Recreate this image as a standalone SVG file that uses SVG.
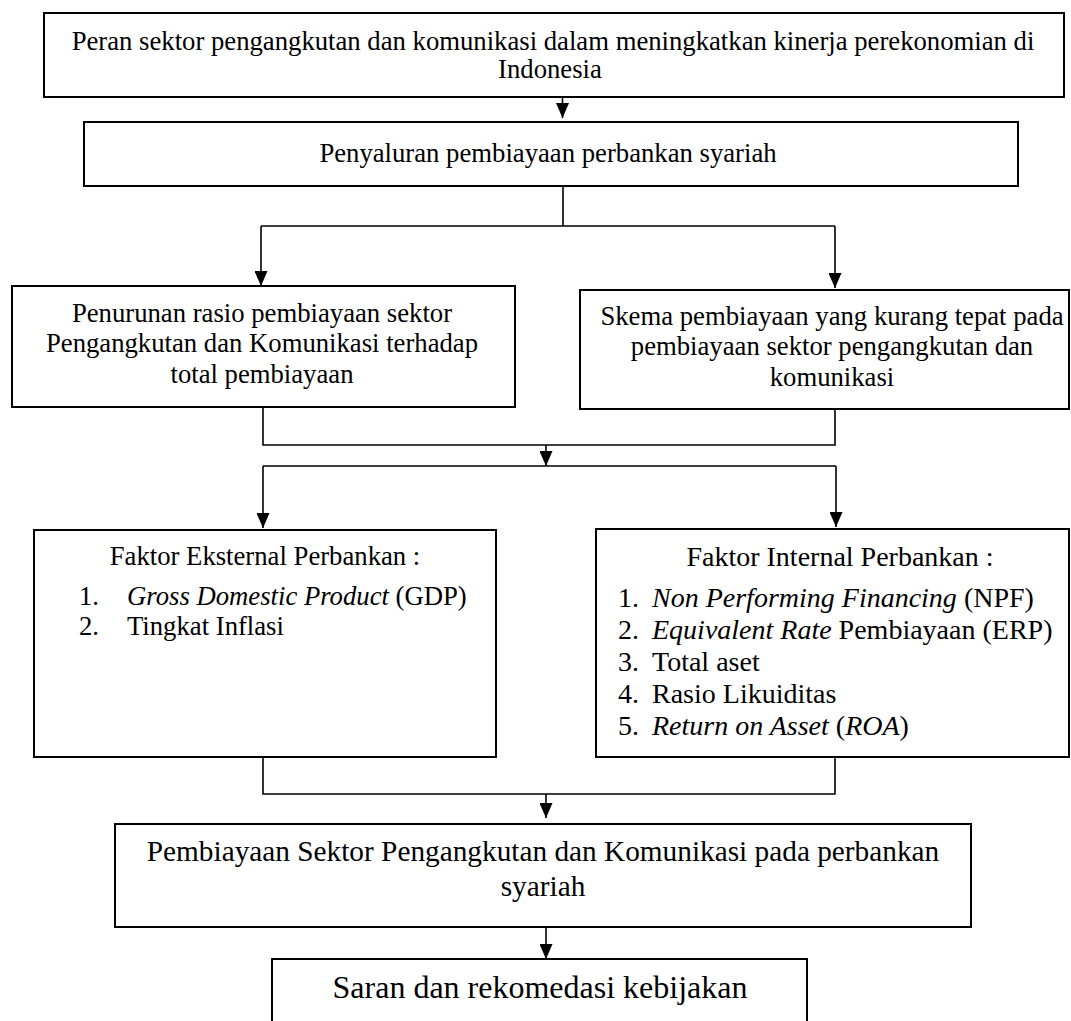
<svg xmlns="http://www.w3.org/2000/svg" width="1071" height="1021" viewBox="0 0 1071 1021">
<style>
.box{fill:#fff;stroke:#000;stroke-width:2}
.con{fill:none;stroke:#000;stroke-width:1.6}
.t{font-family:"Liberation Serif","Times New Roman",serif;font-size:26.7px;fill:#000}
.m{text-anchor:middle}
.big{font-size:28px}
.i{font-style:italic}
</style>
<defs>
<marker id="arr" viewBox="0 0 15 13" refX="15" refY="6.5" markerWidth="15" markerHeight="13" markerUnits="userSpaceOnUse" orient="auto">
<path d="M0,0 L15,6.5 L0,13 z" fill="#000"/>
</marker>
</defs>
<rect width="1071" height="1021" fill="#fff"/>
<g id="connectors">
<path class="con" d="M562.5,97 V118" marker-end="url(#arr)"/>
<path class="con" d="M563,186 V226 M261,226 H835"/>
<path class="con" d="M261,226 V286" marker-end="url(#arr)"/>
<path class="con" d="M835,226 V288" marker-end="url(#arr)"/>
<path class="con" d="M263,407 V445 H835 V409"/>
<path class="con" d="M546,445 V466" marker-end="url(#arr)"/>
<path class="con" d="M263,466 H836"/>
<path class="con" d="M263,466 V528" marker-end="url(#arr)"/>
<path class="con" d="M836,466 V527" marker-end="url(#arr)"/>
<path class="con" d="M263,757 V794 H835 V757"/>
<path class="con" d="M546,794 V818" marker-end="url(#arr)"/>
<path class="con" d="M546,927 V959" marker-end="url(#arr)"/>
</g>
<g id="n1">
<rect class="box" x="44" y="13" width="1020" height="84"/>
<text class="t m" x="553" y="50">Peran sektor pengangkutan dan komunikasi dalam meningkatkan kinerja perekonomian di</text>
<text class="t m" x="550" y="78">Indonesia</text>
</g>
<g id="n2">
<rect class="box" x="84" y="122" width="934" height="64"/>
<text class="t m" x="548" y="162">Penyaluran pembiayaan perbankan syariah</text>
</g>
<g id="n3">
<rect class="box" x="12" y="286" width="503" height="121"/>
<text class="t m" x="262" y="322">Penurunan rasio pembiayaan sektor</text>
<text class="t m" x="262" y="352">Pengangkutan dan Komunikasi terhadap</text>
<text class="t m" x="262" y="383">total pembiayaan</text>
</g>
<g id="n4">
<rect class="box" x="580" y="290" width="489" height="119"/>
<text class="t m" x="832" y="325">Skema pembiayaan yang kurang tepat pada</text>
<text class="t m" x="832" y="355">pembiayaan sektor pengangkutan dan</text>
<text class="t m" x="832" y="386">komunikasi</text>
</g>
<g id="n5">
<rect class="box" x="34" y="530" width="462" height="227"/>
<text class="t m" x="265" y="565">Faktor Eksternal Perbankan :</text>
<text class="t" x="79" y="605">1.</text>
<text class="t" x="127" y="605"><tspan class="i">Gross Domestic Product</tspan> (GDP)</text>
<text class="t" x="79" y="635">2.</text>
<text class="t" x="127" y="635">Tingkat Inflasi</text>
</g>
<g id="n6">
<rect class="box" x="596" y="529" width="473" height="228"/>
<text class="t big m" x="840" y="566">Faktor Internal Perbankan :</text>
<text class="t big" x="618" y="607">1.</text>
<text class="t big" x="652" y="607"><tspan class="i">Non Performing Financing</tspan> (NPF)</text>
<text class="t big" x="618" y="639">2.</text>
<text class="t big" x="652" y="639"><tspan class="i">Equivalent Rate</tspan> Pembiayaan (ERP)</text>
<text class="t big" x="618" y="671">3.</text>
<text class="t big" x="652" y="671">Total aset</text>
<text class="t big" x="618" y="703">4.</text>
<text class="t big" x="652" y="703">Rasio Likuiditas</text>
<text class="t big" x="618" y="735">5.</text>
<text class="t big" x="652" y="735"><tspan class="i">Return on Asset</tspan> (<tspan class="i">ROA</tspan>)</text>
</g>
<g id="n7">
<rect class="box" x="115" y="824" width="856" height="103"/>
<text class="t m" x="543" y="861" style="font-size:29.3px">Pembiayaan Sektor Pengangkutan dan Komunikasi pada perbankan</text>
<text class="t m" x="543" y="896" style="font-size:29.3px">syariah</text>
</g>
<g id="n8">
<rect class="box" x="272" y="959" width="535" height="80"/>
<text class="t m" x="540" y="998" style="font-size:32px">Saran dan rekomedasi kebijakan</text>
</g>
</svg>
